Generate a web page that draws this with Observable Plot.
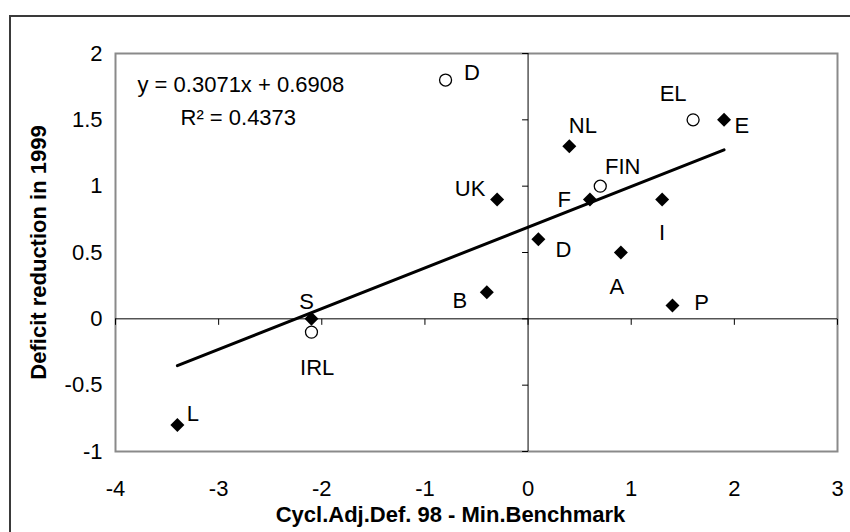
<!DOCTYPE html>
<html>
<head>
<meta charset="utf-8">
<script src="https://cdn.jsdelivr.net/npm/d3@7"></script>
<script src="https://cdn.jsdelivr.net/npm/@observablehq/plot@0.6"></script>
<style>
  html, body { margin: 0; padding: 0; background: #fff; overflow: hidden; }
  #wrap { position: relative; width: 850px; height: 532px; overflow: hidden; }
  #border { position: absolute; left: 9px; top: 15px; width: 900px; height: 600px;
            border: 2px solid #3a3a3a; box-sizing: border-box; pointer-events: none; }
  #chart { position: absolute; left: 0; top: 0; }
  g[aria-label="y-title"] text { letter-spacing: 1.3px; }
</style>
</head>
<body>
<div id="wrap"><div id="chart"></div><div id="border"></div></div>
<script>
// ---------- DATA ----------
const diamondLabels = ["L", "S", "B", "P", "UK", "NL", "F", "I", "D", "A", "E"];
const diamondX = [-3.4, -2.1, -0.4, 1.4, -0.3, 0.4, 0.6, 1.3, 0.1, 0.9, 1.9];
const diamondY = [-0.8, 0.0, 0.2, 0.1, 0.9, 1.3, 0.9, 0.9, 0.6, 0.5, 1.5];

const circleLabels = ["D", "EL", "FIN", "IRL"];
const circleX = [-0.8, 1.6, 0.7, -2.1];
const circleY = [1.8, 1.5, 1.0, -0.1];

const xTicks = [-4, -3, -2, -1, 0, 1, 2, 3];
const xTickLabels = ["-4", "-3", "-2", "-1", "0", "1", "2", "3"];
const yTicks = [-1, -0.5, 0, 0.5, 1, 1.5, 2];
const yTickLabels = ["-1", "-0.5", "0", "0.5", "1", "1.5", "2"];

const xTitle = "Cycl.Adj.Def. 98 - Min.Benchmark";
const yTitle = "Deficit reduction in 1999";
const equationText = "y = 0.3071x + 0.6908";
const r2Text = "R\u00B2 = 0.4373";

// ---------- LAYOUT (label offsets in pixels, not data) ----------
const diamondLabelOffsets = [[15.6, -11], [-5, -17.3], [-27, 8.3], [29, -3], [-27, -10.7],
  [13.5, -20.7], [-25.7, 1], [0, 34], [25, 11], [-4, 34], [17.7, 6]];
const circleLabelOffsets = [[26.5, -6.7], [-20, -26.3], [22.5, -19.2], [5.7, 36]];

// ---------- BUILD ----------
const diamonds = diamondLabels.map((label, i) => ({label, x: diamondX[i], y: diamondY[i],
  dx: diamondLabelOffsets[i][0], dy: diamondLabelOffsets[i][1]}));
const circles = circleLabels.map((label, i) => ({label, x: circleX[i], y: circleY[i],
  dx: circleLabelOffsets[i][0], dy: circleLabelOffsets[i][1]}));
const allPoints = diamonds.concat(circles);

const tickDown = {draw(ctx) { ctx.moveTo(0, 0); ctx.lineTo(0, 6); }};
const tickLeft = {draw(ctx) { ctx.moveTo(0, 0); ctx.lineTo(-6, 0); }};

const font = "Arial, 'Liberation Sans', Helvetica, sans-serif";
const FS = 22;

const labelMarks = allPoints.map(p => Plot.text([p], {
  x: "x", y: "y", text: "label", dx: p.dx, dy: p.dy,
  fontSize: FS, fill: "#000", textAnchor: "middle", lineAnchor: "middle"
}));

const chart = Plot.plot({
  width: 850,
  height: 532,
  marginLeft: 115,
  marginRight: 13,
  marginTop: 53,
  marginBottom: 81,
  style: {fontFamily: font, fontSize: FS + "px", background: "transparent", color: "#000"},
  x: {domain: [-4, 3], label: null},
  y: {domain: [-1, 2], label: null},
  marks: [
    Plot.frame({stroke: "#8a8a8a", strokeWidth: 2}),
    Plot.ruleY([0], {stroke: "#000", strokeWidth: 1}),
    Plot.ruleX([0], {stroke: "#000", strokeWidth: 1}),
    Plot.dot(xTicks, {x: d => d, y: () => 0, symbol: tickDown, stroke: "#000", fill: "none", strokeWidth: 1}),
    Plot.dot(yTicks, {x: () => 0, y: d => d, symbol: tickLeft, stroke: "#000", fill: "none", strokeWidth: 1}),
    Plot.axisX({anchor: "bottom", ticks: xTicks, tickSize: 0, tickPadding: 29,
      tickFormat: d => xTickLabels[xTicks.indexOf(d)], fontSize: FS, label: null}),
    Plot.axisY({anchor: "left", ticks: yTicks, tickSize: 0, tickPadding: 13,
      tickFormat: d => yTickLabels[yTicks.indexOf(d)], fontSize: FS, label: null}),
    Plot.linearRegressionY(allPoints, {x: "x", y: "y", stroke: "#000", strokeWidth: 3, ci: 0}),
    Plot.dot(diamonds, {x: "x", y: "y", symbol: "diamond2", r: 6.3, fill: "#000", stroke: "none"}),
    Plot.dot(circles, {x: "x", y: "y", symbol: "circle", r: 6, fill: "#fff", stroke: "#000", strokeWidth: 1.3}),
    ...labelMarks,
    Plot.text([equationText], {frameAnchor: "top-left", textAnchor: "start", lineAnchor: "middle",
      dx: 22, dy: 31, fontSize: FS, fill: "#000"}),
    Plot.text([r2Text], {frameAnchor: "top-left", textAnchor: "start", lineAnchor: "middle",
      dx: 65, dy: 64, fontSize: FS, fill: "#000"}),
    Plot.text([xTitle], {frameAnchor: "bottom", textAnchor: "middle", lineAnchor: "middle",
      dx: -26, dy: 63, fontSize: FS, fontWeight: "bold", fill: "#000"}),
    Plot.text([yTitle], {frameAnchor: "left", textAnchor: "middle", lineAnchor: "middle",
      dx: -77, dy: 0, rotate: -90, fontSize: FS, fontWeight: "bold", fill: "#000", ariaLabel: "y-title"})
  ]
});
document.getElementById("chart").appendChild(chart);
</script>
</body>
</html>
